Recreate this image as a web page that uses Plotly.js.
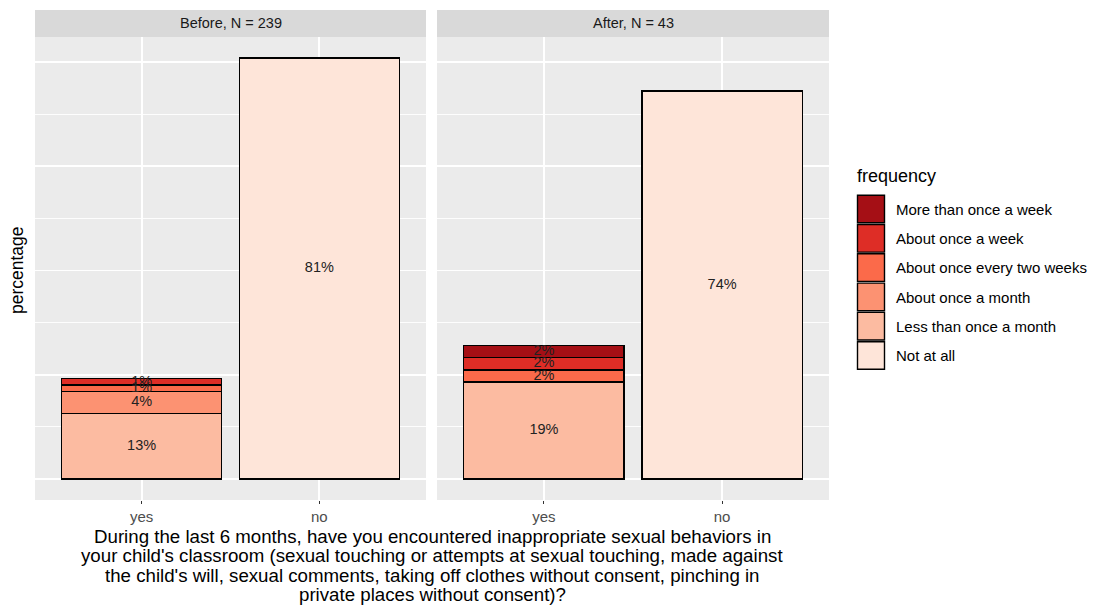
<!DOCTYPE html>
<html>
<head>
<meta charset="utf-8">
<script src="https://cdn.plot.ly/plotly-3.0.1.min.js"></script>
<style>html,body{margin:0;padding:0;background:#fff;}#chart{width:1093px;height:610px;}</style>
</head>
<body>
<div id="chart"></div>
<script>
// ---- data ----
const categories = ['yes', 'no'];
const panels = ['Before, N = 239', 'After, N = 43'];
const panelN = [239, 43];
// frequency levels in stacking order (bottom -> top)
const freqLevels = ['Not at all', 'Less than once a month', 'About once a month',
                    'About once every two weeks', 'About once a week', 'More than once a week'];
const freqColors = ['#FEE5D9', '#FCBBA1', '#FC9272', '#FB6A4A', '#DE2D26', '#A50F15'];
// respondent counts per frequency level, answer "yes" / "no"
const beforeYes = [0, 30, 10, 3, 3, 0];
const beforeNo  = [193, 0, 0, 0, 0, 0];
const afterYes  = [0, 8, 0, 1, 1, 1];
const afterNo   = [32, 0, 0, 0, 0, 0];
const xTitleLines = [
  "During the last 6 months, have you encountered inappropriate sexual behaviors in",
  "your child's classroom (sexual touching or attempts at sexual touching, made against",
  "the child's will, sexual comments, taking off clothes without consent, pinching in",
  "private places without consent)?"
];
const yTitle = 'percentage';
const legendTitle = 'frequency';

// ---- build ----
const W = 1093, H = 610;
const px = x => x / W, py = y => 1 - y / H;
const FONT = 'Liberation Sans, Arial, sans-serif';

const panelData = [
  {yes: beforeYes, no: beforeNo, N: panelN[0], xa: 'x', ya: 'y'},
  {yes: afterYes, no: afterNo, N: panelN[1], xa: 'x2', ya: 'y2'}
];

const traces = [];
panelData.forEach(p => {
  freqLevels.forEach((lev, i) => {
    const vals = [p.yes[i], p.no[i]].map(c => c > 0 ? c / p.N * 100 : null);
    traces.push({
      type: 'bar', x: categories, y: vals, name: lev, showlegend: false,
      xaxis: p.xa, yaxis: p.ya,
      marker: {color: freqColors[i], line: {color: '#000', width: 1.4}},
      hoverinfo: 'skip'
    });
  });
});
// labels at segment midpoints
panelData.forEach(p => {
  const xs = [], ys = [], ts = [];
  [['yes', p.yes], ['no', p.no]].forEach(([cat, arr]) => {
    let cum = 0;
    arr.forEach(c => {
      if (c > 0) {
        const v = c / p.N * 100;
        xs.push(cat); ys.push(cum + v / 2); ts.push(Math.round(v) + '%');
        cum += v;
      }
    });
  });
  traces.push({
    type: 'scatter', mode: 'text', x: xs, y: ys, text: ts, showlegend: false,
    xaxis: p.xa, yaxis: p.ya, cliponaxis: false, hoverinfo: 'skip',
    textfont: {family: FONT, size: 14.5, color: '#222222'}
  });
});

const yTop = 80.75 * 1.05;
const yRange = [-80.75 * 0.05, yTop];
const xAxisBase = {
  type: 'category', categoryorder: 'array', categoryarray: categories,
  range: [-0.6, 1.6], showgrid: true, gridcolor: '#FFFFFF', gridwidth: 1.9,
  zeroline: false, showline: false, ticks: 'outside', ticklen: 3, tickwidth: 1.1,
  tickcolor: '#333333', tickfont: {family: FONT, size: 15, color: '#4D4D4D'}, fixedrange: true
};
const yAxisBase = {
  range: yRange, dtick: 20, tick0: 0, showticklabels: false, ticks: '',
  showgrid: true, gridcolor: '#FFFFFF', gridwidth: 1.9, zeroline: false, showline: false,
  minor: {dtick: 10, tick0: 0, showgrid: true, gridcolor: '#FFFFFF', gridwidth: 0.9},
  domain: [py(500), py(37)], fixedrange: true
};

const panelPx = [[35, 426], [437, 829]];
const shapes = [], annotations = [];
panelPx.forEach((pp, k) => {
  shapes.push({type: 'rect', xref: 'paper', yref: 'paper', x0: px(pp[0]), x1: px(pp[1]),
    y0: py(37), y1: py(10), fillcolor: '#D9D9D9', line: {width: 0}, layer: 'below'});
  annotations.push({xref: 'paper', yref: 'paper', x: px((pp[0] + pp[1]) / 2), y: py(23.5),
    text: panels[k], showarrow: false, xanchor: 'center', yanchor: 'middle',
    font: {family: FONT, size: 14.5, color: '#1A1A1A'}});
});
// axis titles
xTitleLines.forEach((line, k) => {
  annotations.push({xref: 'paper', yref: 'paper', x: px(432), y: py(536 + k * 19.6), text: line,
    showarrow: false, xanchor: 'center', yanchor: 'middle',
    font: {family: FONT, size: 18.7, color: '#000'}});
});
annotations.push({xref: 'paper', yref: 'paper', x: px(17), y: py(270), text: yTitle,
  showarrow: false, textangle: -90, xanchor: 'center', yanchor: 'middle',
  font: {family: FONT, size: 17.5, color: '#000'}});
// legend (drawn from the level arrays, top = last level)
annotations.push({xref: 'paper', yref: 'paper', x: px(855), y: py(176), text: legendTitle,
  showarrow: false, xanchor: 'left', yanchor: 'middle', font: {family: FONT, size: 18, color: '#000'}});
const keyTop = 194.5, keyH = 29.3;
for (let j = 0; j < freqLevels.length; j++) {
  const i = freqLevels.length - 1 - j;
  const y0 = keyTop + j * keyH;
  shapes.push({type: 'rect', xref: 'paper', yref: 'paper', x0: px(857.5), x1: px(884.5),
    y0: py(y0 + keyH - 1), y1: py(y0 + 0.7), fillcolor: freqColors[i],
    line: {color: '#000', width: 1.4}});
  annotations.push({xref: 'paper', yref: 'paper', x: px(893.5), y: py(y0 + keyH / 2), text: freqLevels[i],
    showarrow: false, xanchor: 'left', yanchor: 'middle', font: {family: FONT, size: 15, color: '#000'}});
}

const layout = {
  width: W, height: H, margin: {l: 0, r: 0, t: 0, b: 0},
  paper_bgcolor: '#FFFFFF', plot_bgcolor: '#EBEBEB',
  barmode: 'stack', bargap: 0.1, showlegend: false,
  xaxis: Object.assign({}, xAxisBase, {domain: [px(35), px(426)], anchor: 'y'}),
  yaxis: Object.assign({}, yAxisBase, {anchor: 'x'}),
  xaxis2: Object.assign({}, xAxisBase, {domain: [px(437), px(829)], anchor: 'y2'}),
  yaxis2: Object.assign({}, yAxisBase, {anchor: 'x2', matches: 'y'}),
  shapes: shapes, annotations: annotations,
  font: {family: FONT}
};

Plotly.newPlot('chart', traces, layout, {displayModeBar: false, staticPlot: true});
</script>
</body>
</html>
